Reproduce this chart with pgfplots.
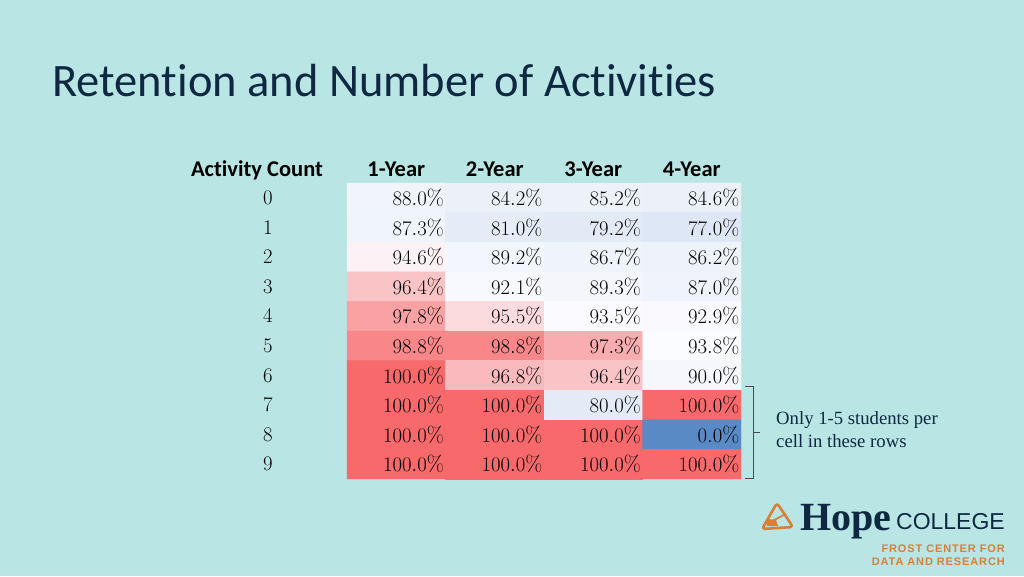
\documentclass[border=0pt]{standalone}
\usepackage{pgfplots}
\usepackage{pgfplotstable}
\pgfplotsset{compat=1.18}
\usepackage{fontspec}
\newfontfamily\calibri[Ligatures=NoCommon]{Carlito}
\newfontfamily\lsans{Liberation Sans}
\newfontfamily\lserif{Liberation Serif}
\newfontfamily\frost[LetterSpace=8]{Liberation Sans}

\definecolor{bg}{RGB}{185,229,228}
\definecolor{navy}{RGB}{14,40,65}
\definecolor{orng}{RGB}{214,128,58}

\pgfplotstableread{
x y v
0 0 88.0
1 0 84.2
2 0 85.2
3 0 84.6
0 1 87.3
1 1 81.0
2 1 79.2
3 1 77.0
0 2 94.6
1 2 89.2
2 2 86.7
3 2 86.2
0 3 96.4
1 3 92.1
2 3 89.3
3 3 87.0
0 4 97.8
1 4 95.5
2 4 93.5
3 4 92.9
0 5 98.8
1 5 98.8
2 5 97.3
3 5 93.8
0 6 100.0
1 6 96.8
2 6 96.4
3 6 90.0
0 7 100.0
1 7 100.0
2 7 80.0
3 7 100.0
0 8 100.0
1 8 100.0
2 8 100.0
3 8 0.0
0 9 100.0
1 9 100.0
2 9 100.0
3 9 100.0
}\heat

\begin{document}
\begin{tikzpicture}
\fill[bg] (0pt,0pt) rectangle (1024pt,576pt);
\node[anchor=base west, inner sep=0, text=navy, font=\calibri\fontsize{46.5}{52}\selectfont] at (52pt,479pt) {Retention and Number of Activities};

\begin{axis}[
  at={(347pt,97pt)}, anchor=south west,
  width=394pt, height=296pt, scale only axis,
  xmin=-0.5, xmax=3.5, ymin=-0.5, ymax=9.5,
  y dir=reverse,
  axis line style={draw=none},
  major tick length=0pt,
  xtick={0,1,2,3},
  xticklabels={1-Year,2-Year,3-Year,4-Year},
  xticklabel pos=top,
  xticklabel style={font=\calibri\bfseries\fontsize{22.5}{26}\selectfont, anchor=base, yshift=6pt, inner sep=0pt},
  ytick={0,...,9},
  yticklabel style={font=\fontsize{22}{24}\selectfont, anchor=center, xshift=-79pt, inner sep=0pt},
  colormap={excel}{rgb255(0pt)=(90,138,198) rgb255(942pt)=(252,252,255) rgb255(1000pt)=(248,105,107)},
  point meta min=0, point meta max=100,
  clip=false,
]
\addplot[matrix plot*, mesh/cols=4, point meta=explicit] table[x=x, y=y, meta=v]{\heat};
\addplot[draw=none, mark=none, point meta=explicit,
  nodes near coords={\pgfmathprintnumber[fixed,fixed zerofill,precision=1]{\pgfplotspointmeta}\%},
  nodes near coords style={anchor=east, inner sep=0pt, font=\fontsize{22}{24}\selectfont, text=black}]
  table[x expr=\thisrow{x}+0.485, y=y, meta=v]{\heat};
\end{axis}

\node[anchor=base, inner sep=0, font=\calibri\bfseries\fontsize{22.5}{26}\selectfont] at (257pt,399pt) {Activity Count};

% bracket
\draw[line width=0.8pt, black!70] (745pt,190pt) -- (753pt,190pt) -- (753pt,98pt) -- (745pt,98pt);
\draw[line width=0.8pt, black!70] (753pt,144pt) -- (760pt,144pt);
\node[anchor=base west, inner sep=0, align=left, text=navy, font=\lserif\fontsize{18.7}{23}\selectfont] at (776pt,129pt) {Only 1-5 students per\\cell in these rows};

% logo
\draw[orng, line width=2.6pt, line join=round, rounded corners=3pt] (762pt,47pt) -- (777pt,73pt) -- (793pt,49pt) -- cycle;
\draw[orng, line width=1.6pt] (766pt,52pt) -- (786pt,62pt);
\fill[orng] (767pt,50pt) -- (778pt,50pt) -- (776pt,56pt) -- (768pt,57pt) -- cycle;
\node[anchor=base west, inner sep=0, text=navy, font=\lserif\bfseries\fontsize{40}{42}\selectfont] at (800pt,46pt) {Hope};
\node[anchor=base east, inner sep=0, text=navy, font=\lsans\fontsize{23}{25}\selectfont] at (1005pt,47pt) {COLLEGE};
\node[anchor=base east, inner sep=0, text=orng, font=\frost\bfseries\fontsize{11}{12}\selectfont] at (1005pt,24pt) {FROST CENTER FOR};
\node[anchor=base east, inner sep=0, text=orng, font=\frost\bfseries\fontsize{11}{12}\selectfont] at (1005pt,11pt) {DATA AND RESEARCH};
\end{tikzpicture}
\end{document}
